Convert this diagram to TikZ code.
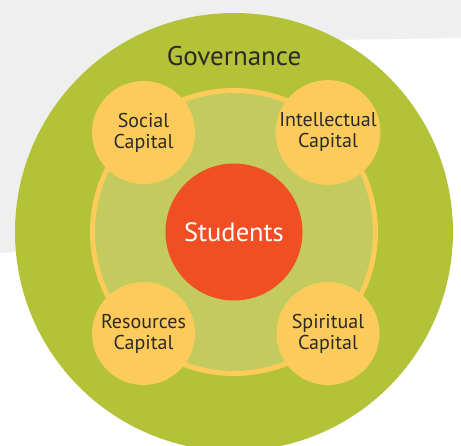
\documentclass[tikz,border=0pt]{standalone}
\usepackage{fontspec}
\setmainfont{PT Sans}
\usepackage{tikz}
\usetikzlibrary{positioning}

\definecolor{govgreen}{HTML}{B3C236}
\definecolor{ringgreen}{HTML}{C3CB5E}
\definecolor{ringyellow}{HTML}{FDCB5A}
\definecolor{capyellow}{HTML}{FDCB5C}
\definecolor{studred}{HTML}{F04E23}
\definecolor{textdark}{HTML}{2B2A29}
\definecolor{bggray}{HTML}{EFEFEF}

\begin{document}
\begin{tikzpicture}[
  x=1pt,y=1pt,
  outer/.style={circle,fill=govgreen,minimum size=438pt,inner sep=0pt},
  ring/.style={circle,fill=ringgreen,draw=ringyellow,line width=5pt,
    minimum size=283pt,inner sep=0pt},
  capital/.style={circle,fill=capyellow,minimum size=103pt,inner sep=0pt,
    align=center,font=\fontsize{20}{21}\selectfont,text=textdark},
  core/.style={circle,fill=studred,minimum size=137pt,inner sep=0pt,
    font=\fontsize{26.5}{28}\selectfont,text=white}
]
\useasboundingbox (0,0) rectangle (461,445);
\clip (0,0) rectangle (461,445);
% background
\fill[white] (0,0) rectangle (461,445);
\fill[bggray] (0,445) -- (461,445) -- (461,407) -- (330,405) -- (234,213) -- (0,192) -- cycle;
% circles
\node[outer] (gov) at (234,213) {};
\node[ring] (ring) at (234,213) {};
\node[core] (students) at (234,213) {Students};
\node[font=\fontsize{27}{28}\selectfont,text=textdark] (govlabel) at (234,389) {Governance};
\node[capital] (social) at (143.5,312.5) {Social\\Capital};
\node[capital] (intellectual) at (328,312.5) {Intellectual\\Capital};
\node[capital] (resources) at (143.5,111.5) {Resources\\Capital};
\node[capital] (spiritual) at (328,111.5) {Spiritual\\Capital};
\end{tikzpicture}
\end{document}
